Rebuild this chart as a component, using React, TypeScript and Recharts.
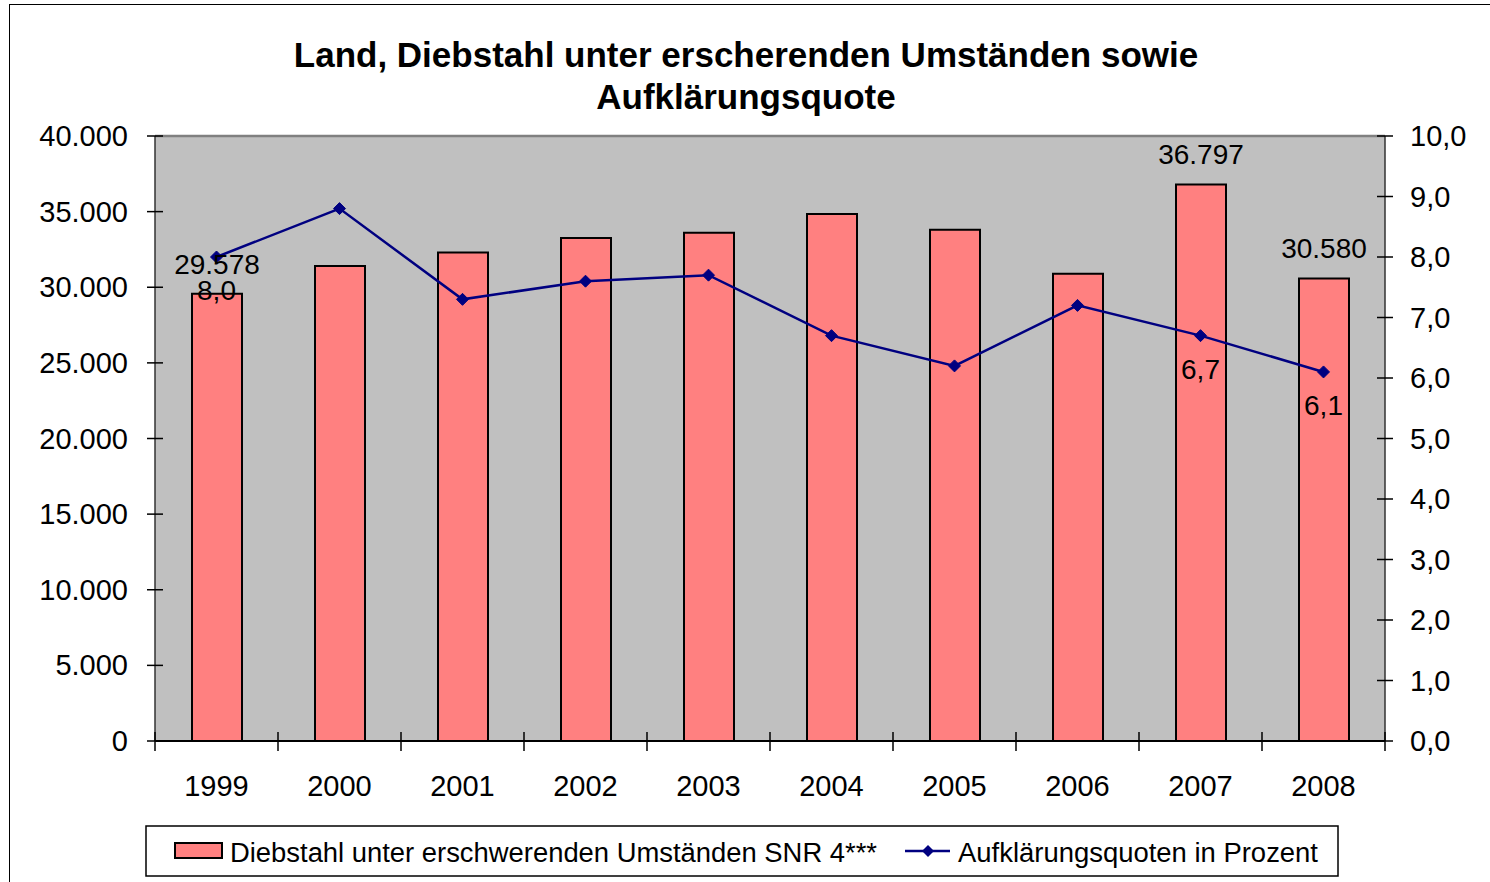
import { Bar, CartesianGrid, ComposedChart, LabelList, Line, ReferenceLine, XAxis, YAxis } from "recharts";

const years = ["1999", "2000", "2001", "2002", "2003", "2004", "2005", "2006", "2007", "2008"];
const diebstahl = [29578, 31400, 32300, 33250, 33600, 34850, 33800, 30900, 36797, 30580];
const quote = [8.0, 8.8, 7.3, 7.6, 7.7, 6.7, 6.2, 7.2, 6.7, 6.1];
const labeledYears = ["1999", "2007", "2008"];
const leftTicks = [0, 5000, 10000, 15000, 20000, 25000, 30000, 35000, 40000];
const rightTicks = [0, 1, 2, 3, 4, 5, 6, 7, 8, 9, 10];

const barName = "Diebstahl unter erschwerenden Umständen SNR 4***";
const lineName = "Aufklärungsquoten in Prozent";

const FONT = "'Liberation Sans', Arial, sans-serif";
const BAR_FILL = "#FF8080";
const NAVY = "#000080";
const BAND = 123;

const fmtThousands = (v: number) => String(v).replace(/\B(?=(\d{3})+(?!\d))/g, ".");
const fmtDecimal = (v: number) => v.toFixed(1).replace(".", ",");

const data = years.map((year, i) => ({
  year,
  diebstahl: diebstahl[i],
  quote: quote[i],
  barLabel: labeledYears.includes(year) ? fmtThousands(diebstahl[i]) : null,
  lineLabel: labeledYears.includes(year) ? fmtDecimal(quote[i]) : null,
}));

const diamond = (cx: number, cy: number, r = 6) =>
  `M${cx},${cy - r} L${cx + r},${cy} L${cx},${cy + r} L${cx - r},${cy} Z`;

function XTick(props: any) {
  const { x, y, payload, index } = props;
  return (
    <g>
      <line x1={x - BAND / 2} x2={x - BAND / 2} y1={y - 9} y2={y + 10} stroke="#000" strokeWidth={1.5} />
      {index === years.length - 1 && (
        <line x1={x + BAND / 2} x2={x + BAND / 2} y1={y - 9} y2={y + 10} stroke="#000" strokeWidth={1.5} />
      )}
      <text x={x} y={y + 55} textAnchor="middle" fontSize={29} fontFamily={FONT} fill="#000">
        {payload.value}
      </text>
    </g>
  );
}

function LeftTick(props: any) {
  const { x, y, payload } = props;
  return (
    <g>
      <line x1={x - 8} x2={x + 8} y1={y} y2={y} stroke="#000" strokeWidth={1.5} />
      <text x={x - 27} y={y + 10} textAnchor="end" fontSize={29} fontFamily={FONT} fill="#000">
        {fmtThousands(payload.value)}
      </text>
    </g>
  );
}

function RightTick(props: any) {
  const { x, y, payload } = props;
  return (
    <g>
      <line x1={x - 8} x2={x + 8} y1={y} y2={y} stroke="#000" strokeWidth={1.5} />
      <text x={x + 25} y={y + 10} textAnchor="start" fontSize={29} fontFamily={FONT} fill="#000">
        {fmtDecimal(payload.value)}
      </text>
    </g>
  );
}

function Dot(props: any) {
  const { cx, cy, index } = props;
  if (cx == null || cy == null) return <g key={`d${index}`} />;
  return <path key={`d${index}`} d={diamond(cx, cy)} fill={NAVY} stroke={NAVY} strokeWidth={1} />;
}

export default function App() {
  return (
    <div style={{ position: "absolute", left: 0, top: 0, width: 1490, height: 882, overflow: "hidden", background: "#fff" }}>
      <div
        style={{
          position: "absolute",
          left: 9,
          top: 4,
          width: 1500,
          height: 900,
          border: "1px solid #000",
        }}
      />
      <div style={{ position: "absolute", left: 0, top: 0 }}>
        <ComposedChart width={1490} height={882} data={data} margin={{ top: 136, right: 0, left: 0, bottom: 81 }}>
          <CartesianGrid fill="#C0C0C0" horizontal={false} vertical={false} yAxisId="left" />
          <XAxis
            dataKey="year"
            height={60}
            axisLine={{ stroke: "#000", strokeWidth: 2 }}
            tickLine={false}
            tickSize={0}
            tickMargin={0}
            tick={<XTick />}
            interval={0}
          />
          <YAxis
            yAxisId="left"
            orientation="left"
            width={155}
            domain={[0, 40000]}
            ticks={leftTicks}
            axisLine={{ stroke: "#333", strokeWidth: 1.5 }}
            tickLine={false}
            tickSize={0}
            tickMargin={0}
            tick={<LeftTick />}
            interval={0}
          />
          <YAxis
            yAxisId="right"
            orientation="right"
            width={105}
            domain={[0, 10]}
            ticks={rightTicks}
            axisLine={{ stroke: "#333", strokeWidth: 1.5 }}
            tickLine={false}
            tickSize={0}
            tickMargin={0}
            tick={<RightTick />}
            interval={0}
          />
          <ReferenceLine yAxisId="left" y={40000} stroke="#808080" strokeWidth={2.5} />
          <Bar
            yAxisId="left"
            dataKey="diebstahl"
            name={barName}
            fill={BAR_FILL}
            stroke="#000"
            strokeWidth={2}
            barSize={50}
            isAnimationActive={false}
          >
            <LabelList dataKey="barLabel" position="top" offset={20} fontSize={28} fontFamily={FONT} fill="#000" />
          </Bar>
          <Line
            yAxisId="right"
            dataKey="quote"
            name={lineName}
            type="linear"
            stroke={NAVY}
            strokeWidth={2.5}
            dot={(p: any) => <Dot key={`dot${p.index}`} {...p} />}
            isAnimationActive={false}
          >
            <LabelList dataKey="lineLabel" position="bottom" offset={23} fontSize={28} fontFamily={FONT} fill="#000" />
          </Line>
        </ComposedChart>
      </div>
      <svg width={1490} height={882} style={{ position: "absolute", left: 0, top: 0, pointerEvents: "none" }}>
        <text x={746} y={67} textAnchor="middle" fontSize={35} fontWeight="bold" fontFamily={FONT} fill="#000">
          Land, Diebstahl unter erscherenden Umständen sowie
        </text>
        <text x={746} y={109} textAnchor="middle" fontSize={35} fontWeight="bold" fontFamily={FONT} fill="#000">
          Aufklärungsquote
        </text>
        <rect x={146} y={826} width={1192} height={50} fill="#fff" stroke="#000" strokeWidth={1.5} />
        <rect x={175} y={843} width={47} height={15} fill={BAR_FILL} stroke="#000" strokeWidth={2} />
        <text x={230} y={862} fontSize={27} fontFamily={FONT} fill="#000" textLength={647} lengthAdjust="spacingAndGlyphs">
          {barName}
        </text>
        <line x1={905} x2={950} y1={851} y2={851} stroke={NAVY} strokeWidth={2.5} />
        <path d={diamond(928, 851)} fill={NAVY} />
        <text x={958} y={862} fontSize={27} fontFamily={FONT} fill="#000" textLength={360} lengthAdjust="spacingAndGlyphs">
          {lineName}
        </text>
      </svg>
    </div>
  );
}
